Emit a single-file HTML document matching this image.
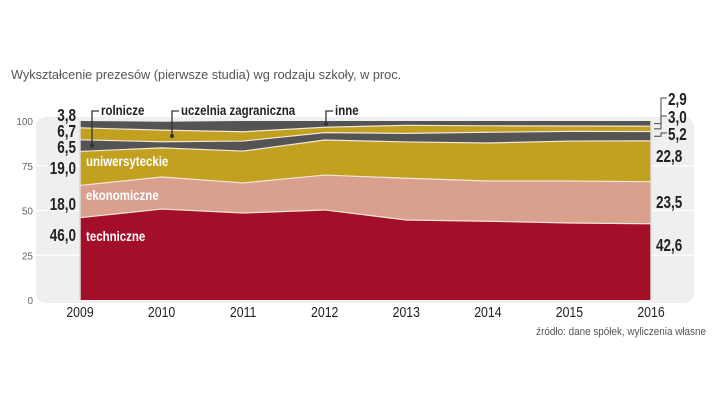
<!DOCTYPE html>
<html><head><meta charset="utf-8">
<style>
html,body{margin:0;padding:0;background:#fff;}
body{width:720px;height:406px;overflow:hidden;font-family:"Liberation Sans",sans-serif;}
svg{display:block;}
</style></head>
<body>
<svg id="chart" width="720" height="406"></svg>
<script>
const years = ['2009','2010','2011','2012','2013','2014','2015','2016'];
const techniczne = [46.0,50.8,48.6,50.3,44.7,44.0,43.0,42.6];
const ekonomiczne = [18.0,17.9,16.8,19.5,23.3,22.5,23.5,23.5];
const uniwersyteckie = [19.0,16.3,17.8,19.6,20.3,21.2,22.3,22.8];
const rolnicze = [6.5,3.4,5.6,4.1,4.8,6.0,5.4,5.2];
const zagraniczna = [6.7,6.5,5.2,3.0,4.5,3.6,3.0,3.0];
const inne = [3.8,4.7,6.0,3.5,2.4,2.7,2.8,2.9];
const yTicks = [0,25,50,75,100];
const seriesNames = ['techniczne','ekonomiczne','uniwersyteckie','rolnicze','zagraniczna','inne'];
const seriesColors = ['#a30f28','#d9a08e','#c2a020','#545454','#c2a020','#545454'];

const NS='http://www.w3.org/2000/svg';
const svg=document.getElementById('chart');
function el(tag,attrs,parent){const e=document.createElementNS(NS,tag);for(const k in attrs)e.setAttribute(k,attrs[k]);(parent||svg).appendChild(e);return e;}
function ntext(x,y,attrs,sx){const a=Object.assign({x:0,y:0,transform:`translate(${x},${y}) scale(${sx||0.78},1)`},attrs);return el('text',a);}
const x0=80,x1=651,y0=300,y100=121;
const xs=i=>x0+(x1-x0)*i/(years.length-1);
const ys=v=>y0-(y0-y100)*v/100;
const fmt=v=>v.toFixed(1).replace('.',',');

let t=ntext(11,79,{'font-size':13,fill:'#555'},0.98);
t.textContent='Wykształcenie prezesów (pierwsze studia) wg rodzaju szkoły, w proc.';



let p=el('rect',{x:36,y:117,width:658,height:186,rx:10,fill:'#efefef'});


yTicks.forEach(v=>{
  if(v>0&&v<100){const g=el('line',{x1:36,x2:694,y1:ys(v),y2:ys(v),stroke:'#fff','stroke-width':1.2});
  
  }
  const tt=el('text',{x:33,y:ys(v)+4,'font-size':10,fill:'#666','text-anchor':'end'});
  tt.textContent=v;
  
  
});

const data=[techniczne,ekonomiczne,uniwersyteckie,rolnicze,zagraniczna,inne];
let cum=years.map(()=>0);
const tops=[];
data.forEach((s,si)=>{
  const lower=cum.slice();
  const upper=cum.map((c,i)=>c+s[i]);
  let d='';
  upper.forEach((v,i)=>{d+=(i?'L':'M')+xs(i)+','+ys(v);});
  for(let i=years.length-1;i>=0;i--)d+='L'+xs(i)+','+ys(lower[i]);
  d+='Z';
  const a=el('path',{d:d,fill:seriesColors[si]});
  
  
  tops.push(upper);
  cum=upper;
});
tops.slice(0,5).forEach((u,si)=>{
  let d='';u.forEach((v,i)=>{d+=(i?'L':'M')+xs(i)+','+ys(v);});
  const l=el('path',{d:d,fill:'none',stroke:'#f3e6da','stroke-width':1.2});
  
  
});
[x0,x1].forEach((x,k)=>{const l=el('line',{x1:x,x2:x,y1:y100,y2:y0,stroke:'#ddd','stroke-width':1.5});

});

years.forEach((y,i)=>{
  const tx=ntext(xs(i),317,{'font-size':15,'text-anchor':'middle',fill:'#222'},0.82);
  tx.textContent=y;
  
  
});

const lYs=[234,203,167,146,130,114];
data.forEach((s,si)=>{
  const tx=ntext(76,lYs[si]+7,{'font-size':18,'font-weight':'bold','text-anchor':'end',fill:'#222'},0.75);
  tx.textContent=fmt(s[0]);
  
  
});
const rYs=[244,201,155,133,116,98];
const n=years.length-1;
data.forEach((s,si)=>{
  const tx=ntext(si<3?656:668,rYs[si]+7,{'font-size':18,'font-weight':'bold',fill:'#222'},0.75);
  tx.textContent=fmt(s[n]);
  
  
});
[[3,133],[4,116],[5,98]].forEach(([si,ly])=>{
  const lo=si?tops[si-1][n]:0, mid=(lo+tops[si][n])/2;
  const l=el('polyline',{points:`${x1+3},${ys(mid)} ${x1+10},${ys(mid)} ${x1+10},${ly} ${x1+16},${ly}`,fill:'none',stroke:'#444','stroke-width':1});
  
  
});

[['techniczne',86,241],['ekonomiczne',86,200],['uniwersyteckie',86,166]].forEach(([s,x,y])=>{
  const tx=ntext(x,y,{'font-size':14,'font-weight':'bold',fill:'#fff'},0.82);
  tx.textContent=s;
  
  
});
[['rolnicze',92,0,3],['uczelnia zagraniczna',172,1,4],['inne',326,3,5]].forEach(([s,x,i,si])=>{
  const lo=tops[si-1][i], mid=(lo+tops[si][i])/2;
  const l=el('polyline',{points:`${x+7},111 ${x},111 ${x},${ys(mid)}`,fill:'none',stroke:'#333','stroke-width':1.3});
  
  
  const c=el('circle',{cx:x,cy:ys(mid),r:2,fill:'#333'});
  
  
  const tx=ntext(x+9,115,{'font-size':14,'font-weight':'bold',fill:'#222'},0.82);
  tx.textContent=s;
  
  
});

let src=ntext(706,335,{'font-size':11,fill:'#555','text-anchor':'end'},0.9);
src.textContent='źródło: dane spółek, wyliczenia własne';


</script>
</body></html>
